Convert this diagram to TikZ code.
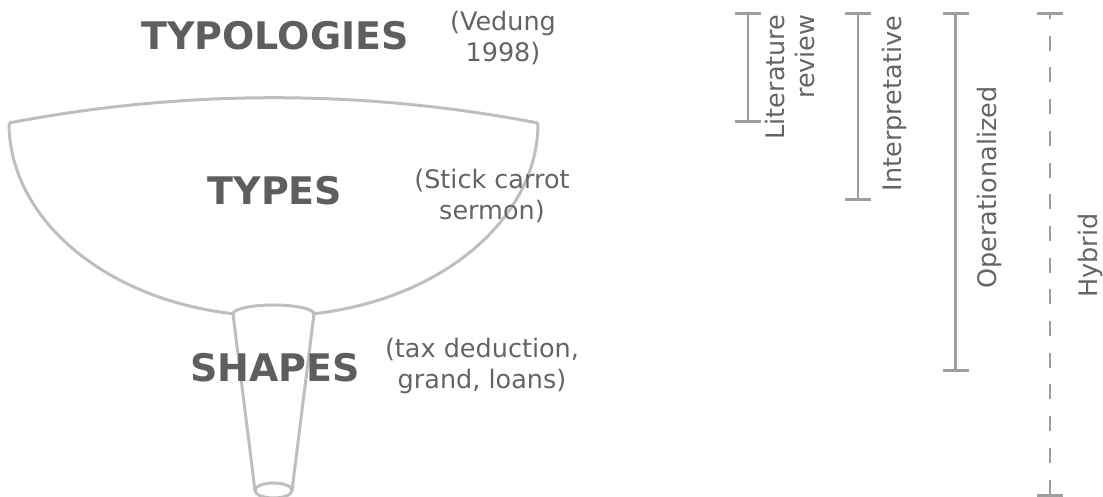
\documentclass[tikz,border=0pt]{standalone}
\usepackage{fontspec}
\setmainfont{DejaVu Sans}
\definecolor{gristexte}{RGB}{100,100,100}
\definecolor{grisfonce}{RGB}{94,94,94}
\definecolor{grisclair}{RGB}{190,190,190}
\definecolor{grismoyen}{RGB}{158,158,158}
\usepackage{tikz}
\usetikzlibrary{arrows.meta}

\begin{document}
\begin{tikzpicture}[x=1pt,y=1pt,
	funnel/.style={draw=grisclair,line width=3pt},
	span/.style={draw=grismoyen,line width=2.8pt,{Bar[width=26pt]}-{Bar[width=26pt]}},
	level/.style={inner sep=0pt,text=grisfonce,font=\fontsize{38}{44}\selectfont\bfseries},
	note/.style={inner sep=0pt,text=gristexte,align=center,font=\fontsize{25.5}{30.5}\selectfont},
	sidelabel/.style={inner sep=0pt,text=gristexte,rotate=90,font=\fontsize{25.5}{29.5}\selectfont}]
					\useasboundingbox (0,0) rectangle (1103,497);
					
					\draw[funnel](9,374) .. controls (185.3,407.7) and (361.7,407.7) .. (538,374);
					\draw[funnel](9,374) arc[start angle=180,end angle=261.2,x radius=264.5,y radius=193];
					\draw[funnel](538,374) arc[start angle=0,end angle=-81.2,x radius=264.5,y radius=193];
					
					\draw[funnel](233,183) arc[start angle=180,end angle=0,x radius=40.5,y radius=9];
					\draw[funnel](233,183) -- (255,6.5);
					\draw[funnel](314,183) -- (292,6.5);
					\draw[funnel](273.5,6.5) ellipse[x radius=18.5,y radius=7.5];
					
					\node[level] (typologies) at (275,461) {TYPOLOGIES};
					\node[level] (types) at (275,306) {TYPES};
					\node[level] (shapes) at (275,129) {SHAPES};
					
					\node[note] (vedung) at (503,459) {(Vedung\\1998)};
					\node[note] (stick) at (492,301) {(Stick carrot\\sermon)};
					\node[note] (tax) at (482,131) {(tax deduction,\\grand, loans)};
					
					\draw[span](748,485) -- (748,374);
					\draw[span](858,485) -- (858,296);
					\draw[span](955.5,485) -- (955.5,125);
					\draw[span,dash pattern=on 15pt off 16.7pt,dash phase=10pt](1050,485) -- (1050,0);
					
					\node[sidelabel,align=right] (litrev) at (790,420) {Literature\\review};
					\node[sidelabel] (interp) at (894.5,393.5) {Interpretative};
					\node[sidelabel] (oper) at (989.5,309.5) {Operationalized};
					\node[sidelabel] (hybrid) at (1090.5,241.5) {Hybrid};
				\end{tikzpicture}
\end{document}
